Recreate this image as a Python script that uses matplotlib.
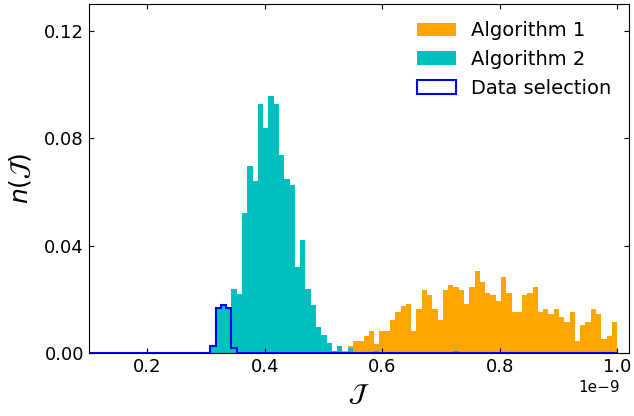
import numpy as np
import matplotlib
matplotlib.use("Agg")
import matplotlib.pyplot as plt

# bin edges: 100 bins from 0.1e-9 to 1.0e-9
edges = np.linspace(0.1e-9, 1.0e-9, 101)
centers = 0.5 * (edges[:-1] + edges[1:])

# Algorithm 1 (orange), bins 48..99
alg1_start = 48
alg1_vals = [0.0009, 0.0026, 0.0047, 0.0047, 0.0065, 0.0084, 0.0036, 0.0084,
             0.0084, 0.0125, 0.0154, 0.0177, 0.0184, 0.0084, 0.0165, 0.0236,
             0.0217, 0.0165, 0.0125, 0.0236, 0.0254, 0.0247, 0.0236, 0.0184,
             0.0247, 0.0306, 0.0265, 0.0225, 0.0217, 0.0195, 0.0284, 0.0225,
             0.0154, 0.0154, 0.0217, 0.0225, 0.0247, 0.0154, 0.0165, 0.0147,
             0.0165, 0.0136, 0.0117, 0.0154, 0.0047, 0.0106, 0.0117, 0.0165,
             0.0147, 0.0054, 0.0065, 0.0117]

# Algorithm 2 (cyan), bins 23..49 plus two stray bins
alg2_start = 23
alg2_vals = [0.0028, 0.0169, 0.0178, 0.0169, 0.0238, 0.0220, 0.0521, 0.0698,
             0.0640, 0.0928, 0.0838, 0.0957, 0.0926, 0.0738, 0.0649, 0.0627,
             0.0320, 0.0420, 0.0238, 0.0179, 0.0098, 0.0068, 0.0037, 0.0008,
             0.0026, 0.0, 0.0020]
alg2_extra_bins = [54, 69]
alg2_extra_vals = [0.0007, 0.0007]

# data selection (blue outline), bins 23..27
sel_start = 23
sel_vals = [0.0028, 0.0169, 0.0178, 0.0169, 0.0019]

w1 = np.zeros(100)
w1[alg1_start:alg1_start + len(alg1_vals)] = alg1_vals
w2 = np.zeros(100)
w2[alg2_start:alg2_start + len(alg2_vals)] = alg2_vals
w2[alg2_extra_bins] = alg2_extra_vals
w3 = np.zeros(100)
w3[sel_start:sel_start + len(sel_vals)] = sel_vals

fig = plt.figure(figsize=(6.34, 4.16), dpi=100)
ax = fig.add_axes([0.140, 0.151, 0.852, 0.840])

ax.hist(centers, bins=edges, weights=w1, color="orange", label="Algorithm 1")
ax.hist(centers, bins=edges, weights=w2, color="c", label="Algorithm 2")
ax.hist(centers, bins=edges, weights=w3, histtype="step", color="blue",
        linewidth=1.5, label="Data selection")

ax.set_xlim(0.1e-9, 1.02e-9)
ax.set_ylim(0, 0.13)
ax.set_xticks([0.2e-9, 0.4e-9, 0.6e-9, 0.8e-9, 1.0e-9])
ax.set_yticks([0.0, 0.04, 0.08, 0.12])
ax.tick_params(direction="in", top=True, right=True, labelsize=13)
ax.xaxis.get_offset_text().set_fontsize(11)
ax.xaxis.get_offset_text().set_x(0.983)

ax.set_xlabel(r"$\mathcal{J}$", fontsize=18)
ax.set_ylabel(r"$n(\mathcal{J})$", fontsize=18, labelpad=8)

ax.legend(loc="upper right", frameon=False, fontsize=14)

fig.savefig("out.png", dpi=100)
